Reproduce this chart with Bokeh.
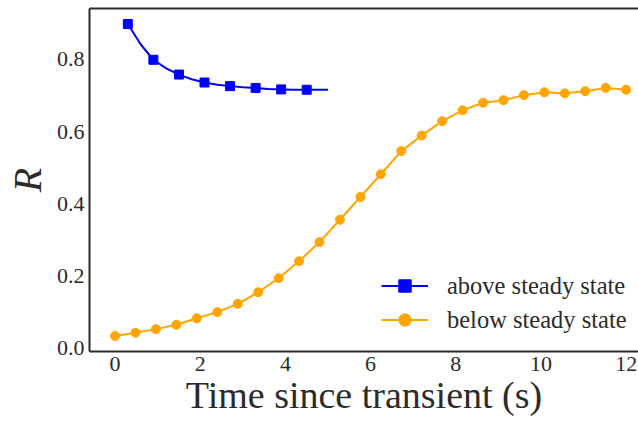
from bokeh.plotting import figure
from bokeh.models import LinearAxis, Range1d, FixedTicker, Legend, LegendItem, ColumnDataSource
from bokeh.embed import file_html
from bokeh.resources import INLINE

# ---- data ----
above_t = [0.3, 0.6, 0.9, 1.2, 1.5, 1.8, 2.1, 2.4, 2.7, 3.0, 3.3, 3.6, 3.9, 4.2, 4.5, 4.8, 5.0]
above_r = [0.898, 0.842, 0.799, 0.775, 0.758, 0.745, 0.736, 0.730, 0.726, 0.723,
           0.721, 0.718, 0.717, 0.716, 0.716, 0.716, 0.716]
above_marker_idx = [0, 2, 4, 6, 8, 10, 12, 14]

below_t = [0.0, 0.48, 0.96, 1.44, 1.92, 2.40, 2.88, 3.36, 3.84, 4.32, 4.80, 5.28, 5.76,
           6.24, 6.72, 7.20, 7.68, 8.16, 8.64, 9.12, 9.60, 10.08, 10.56, 11.04, 11.52, 12.0]
below_r = [0.034, 0.043, 0.053, 0.065, 0.083, 0.100, 0.123, 0.155, 0.194, 0.241, 0.294,
           0.356, 0.419, 0.482, 0.546, 0.589, 0.629, 0.659, 0.680, 0.687, 0.701, 0.709,
           0.706, 0.712, 0.721, 0.716]

x_ticks = [0, 2, 4, 6, 8, 10, 12]
x_tick_labels = ["0", "2", "4", "6", "8", "10", "12"]
y_ticks = [0.0, 0.2, 0.4, 0.6, 0.8]
y_tick_labels = ["0.0", "0.2", "0.4", "0.6", "0.8"]

labels = ["above steady state", "below steady state"]
x_label = "Time since transient (s)"
y_label = "R"

# ---- styling ----
FONT = "'Liberation Serif', 'Times New Roman', serif"
TXT = "#2b2b2b"
BLUE = "#0000ff"
ORANGE = "#ffa500"

p = figure(width=638, height=422, output_backend="svg", toolbar_location=None,
           x_range=Range1d(-0.6, 12.29), y_range=Range1d(-0.009, 0.941),
           min_border_left=89, min_border_right=0, min_border_top=8, min_border_bottom=71,
           x_axis_label=x_label, y_axis_label=y_label)
p.outline_line_color = None
p.grid.visible = False
p.background_fill_color = "white"
p.border_fill_color = "white"

for ax in (p.xaxis[0], p.yaxis[0]):
    ax.axis_line_color = TXT
    ax.axis_line_width = 2
    ax.major_tick_in = 0
    ax.major_tick_out = 0
    ax.minor_tick_in = 0
    ax.minor_tick_out = 0
    ax.major_label_text_font = FONT
    ax.major_label_text_font_size = "22px"
    ax.major_label_text_color = TXT
    ax.axis_label_text_font = FONT
    ax.axis_label_text_color = TXT
    ax.axis_label_text_font_style = "normal"

p.xaxis[0].ticker = FixedTicker(ticks=x_ticks)
p.xaxis[0].major_label_overrides = {t: l for t, l in zip(x_ticks, x_tick_labels)}
p.yaxis[0].ticker = FixedTicker(ticks=y_ticks)
p.yaxis[0].major_label_overrides = {t: l for t, l in zip(y_ticks, y_tick_labels)}

p.xaxis[0].major_label_standoff = 5
p.xaxis[0].axis_label_text_font_size = "38px"
p.xaxis[0].axis_label_standoff = 0
p.yaxis[0].major_label_standoff = 5
p.yaxis[0].axis_label_text_font_size = "40px"
p.yaxis[0].axis_label_text_font_style = "italic"
p.yaxis[0].axis_label_standoff = 4

top = LinearAxis(ticker=FixedTicker(ticks=[]), axis_line_color=TXT, axis_line_width=2,
                 major_tick_in=0, major_tick_out=0, minor_tick_in=0, minor_tick_out=0,
                 major_label_text_font_size="0px")
p.add_layout(top, "above")

# ---- glyphs ----
src_above = ColumnDataSource(dict(t=above_t, r=above_r))
src_above_m = ColumnDataSource(dict(t=[above_t[i] for i in above_marker_idx],
                                    r=[above_r[i] for i in above_marker_idx]))
src_below = ColumnDataSource(dict(t=below_t, r=below_r))

bl = p.line("t", "r", source=src_above, line_color=BLUE, line_width=2)
bs = p.scatter("t", "r", source=src_above_m, marker="square", size=9,
               fill_color=BLUE, line_color=BLUE)
ol = p.line("t", "r", source=src_below, line_color=ORANGE, line_width=2)
os_ = p.scatter("t", "r", source=src_below, marker="circle", size=9,
                fill_color=ORANGE, line_color=ORANGE)

legend = Legend(items=[LegendItem(label=labels[0], renderers=[bl, bs]),
                       LegendItem(label=labels[1], renderers=[ol, os_])],
                location=(292, 16), margin=0, padding=0, spacing=3,
                glyph_width=47, glyph_height=31, label_height=31, label_standoff=19,
                border_line_color=None, background_fill_alpha=0,
                label_text_font=FONT, label_text_font_size="24.5px", label_text_color=TXT)
p.add_layout(legend)

open("out.html", "w").write(file_html(p, INLINE))
